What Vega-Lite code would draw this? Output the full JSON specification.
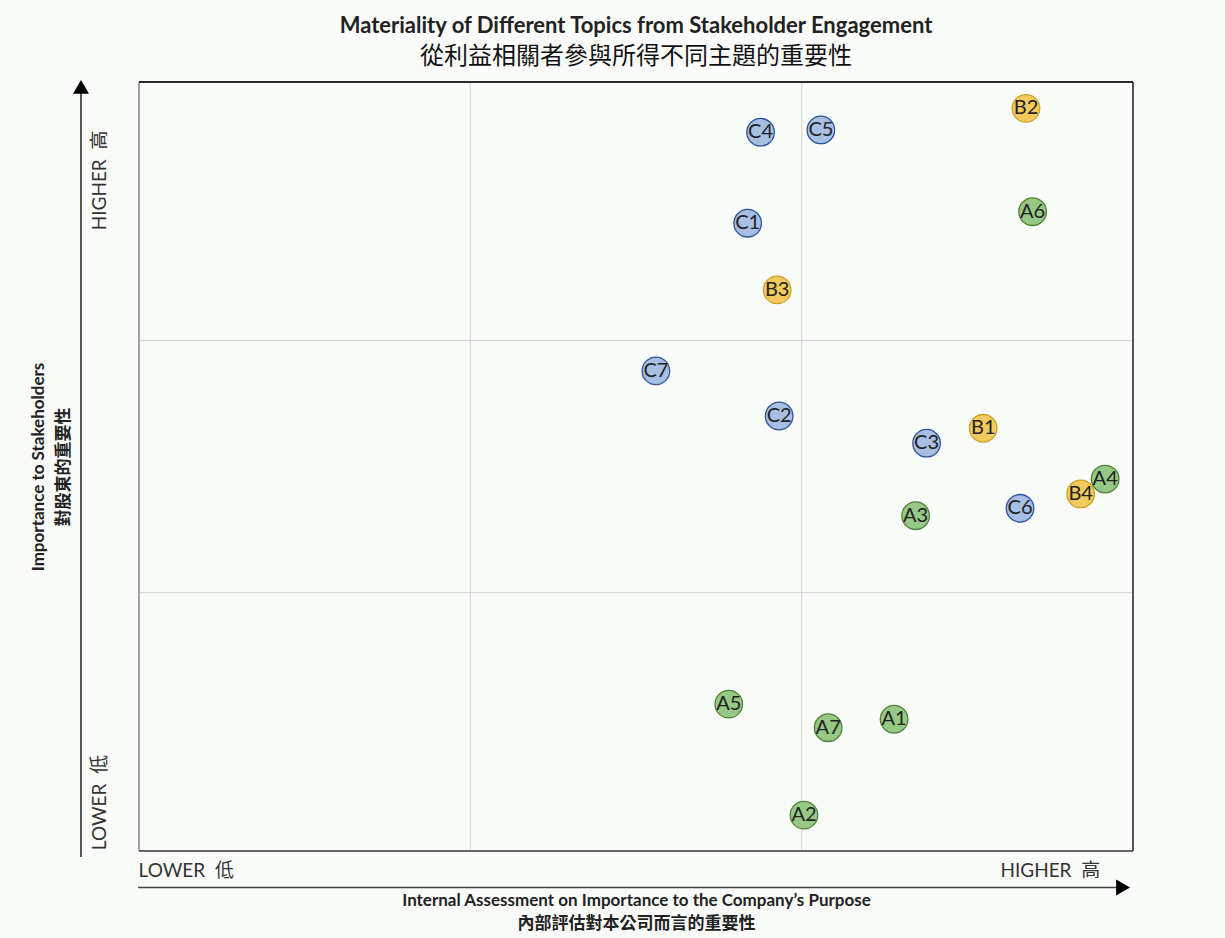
{
  "$schema": "https://vega.github.io/schema/vega-lite/v6.json",
  "width": 994,
  "height": 769,
  "autosize": {"type": "none"},
  "padding": {"left": 139, "top": 82, "right": 92, "bottom": 87},
  "background": "#fafcfa",
  "title": {
    "text": "Materiality of Different Topics from Stakeholder Engagement",
    "subtitle": "從利益相關者參與所得不同主題的重要性",
    "font": "Lato",
    "fontSize": 22,
    "fontWeight": "bold",
    "color": "#222222",
    "subtitleFont": "Noto Sans CJK TC",
    "subtitleFontSize": 24,
    "subtitleColor": "#111111",
    "subtitlePadding": 7,
    "anchor": "middle",
    "frame": "group",
    "offset": 10
  },
  "config": {"view": {"stroke": null}},
  "datasets": {
    "topics": [
      {"label": "A1", "group": "A", "internal": 2.279, "stakeholder": 0.514},
      {"label": "A2", "group": "A", "internal": 2.007, "stakeholder": 0.140},
      {"label": "A3", "group": "A", "internal": 2.344, "stakeholder": 1.308},
      {"label": "A4", "group": "A", "internal": 2.916, "stakeholder": 1.451},
      {"label": "A5", "group": "A", "internal": 1.780, "stakeholder": 0.573},
      {"label": "A6", "group": "A", "internal": 2.697, "stakeholder": 2.494},
      {"label": "A7", "group": "A", "internal": 2.080, "stakeholder": 0.481},
      {"label": "B1", "group": "B", "internal": 2.548, "stakeholder": 1.649},
      {"label": "B2", "group": "B", "internal": 2.677, "stakeholder": 2.897},
      {"label": "B3", "group": "B", "internal": 1.926, "stakeholder": 2.189},
      {"label": "B4", "group": "B", "internal": 2.842, "stakeholder": 1.393},
      {"label": "C1", "group": "C", "internal": 1.837, "stakeholder": 2.449},
      {"label": "C2", "group": "C", "internal": 1.932, "stakeholder": 1.697},
      {"label": "C3", "group": "C", "internal": 2.377, "stakeholder": 1.591},
      {"label": "C4", "group": "C", "internal": 1.876, "stakeholder": 2.804},
      {"label": "C5", "group": "C", "internal": 2.058, "stakeholder": 2.813},
      {"label": "C6", "group": "C", "internal": 2.659, "stakeholder": 1.337},
      {"label": "C7", "group": "C", "internal": 1.560, "stakeholder": 1.873}
    ],
    "grid": [{"g": 1}, {"g": 2}]
  },
  "layer": [
    {
      "data": {"name": "topics"},
      "mark": {"type": "point", "shape": "circle", "filled": true, "size": 750, "strokeWidth": 1.3, "opacity": 0},
      "encoding": {
        "x": {
          "field": "internal", "type": "quantitative",
          "scale": {"domain": [0, 3], "nice": false, "zero": false},
          "axis": {
            "values": [0.141, 2.749],
            "labelExpr": "datum.value < 1 ? 'LOWER\u00a0\u00a0低' : 'HIGHER\u00a0\u00a0高'",
            "grid": false, "ticks": false, "domain": false,
            "labelFont": "Lato, Noto Sans CJK TC", "labelFontSize": 19, "labelColor": "#333333",
            "labelPadding": 10, "labelOverlap": false, "labelFlush": false,
            "title": ["Internal Assessment on Importance to the Company’s Purpose", "內部評估對本公司而言的重要性"],
            "titleFont": "Lato, Noto Sans CJK TC", "titleFontSize": 17, "titleFontWeight": "bold",
            "titleColor": "#222222", "titleLineHeight": 23, "titlePadding": 12
          }
        },
        "y": {
          "field": "stakeholder", "type": "quantitative",
          "scale": {"domain": [0, 3], "nice": false, "zero": false},
          "axis": {
            "values": [0.191, 2.618],
            "labelExpr": "datum.value < 1 ? 'LOWER\u00a0\u00a0低' : 'HIGHER\u00a0\u00a0高'",
            "grid": false, "ticks": false, "domain": false,
            "labelAngle": -90,
            "labelFont": "Lato, Noto Sans CJK TC", "labelFontSize": 19, "labelColor": "#333333",
            "labelPadding": 30, "labelOverlap": false, "labelFlush": false,
            "title": ["Importance to Stakeholders", "對股東的重要性"],
            "titleFont": "Lato, Noto Sans CJK TC", "titleFontSize": 17, "titleFontWeight": "bold",
            "titleColor": "#222222", "titleLineHeight": 25, "titlePadding": 18
          }
        }
      }
    },
    {
      "data": {"name": "grid"},
      "mark": {"type": "rule", "color": "#d6d6d6", "strokeWidth": 1.2},
      "encoding": {
        "x": {"field": "g", "type": "quantitative", "scale": {"domain": [0, 3], "nice": false, "zero": false}}
      }
    },
    {
      "data": {"values": [{"g": 1.008}, {"g": 1.992}]},
      "mark": {"type": "rule", "color": "#d6d6d6", "strokeWidth": 1.2},
      "encoding": {
        "y": {"field": "g", "type": "quantitative", "scale": {"domain": [0, 3], "nice": false, "zero": false}}
      }
    },
    {
      "data": {"values": [{"x": 0}]},
      "mark": {"type": "rule", "color": "#a3a3a3", "strokeWidth": 2},
      "encoding": {
        "x": {"field": "x", "type": "quantitative", "scale": {"domain": [0, 3], "nice": false, "zero": false}}
      }
    },
    {
      "data": {"values": [{"x": 3}]},
      "mark": {"type": "rule", "color": "#555555", "strokeWidth": 2},
      "encoding": {
        "x": {"field": "x", "type": "quantitative", "scale": {"domain": [0, 3], "nice": false, "zero": false}}
      }
    },
    {
      "data": {"values": [{"y": 0}]},
      "mark": {"type": "rule", "color": "#666666", "strokeWidth": 2},
      "encoding": {
        "y": {"field": "y", "type": "quantitative", "scale": {"domain": [0, 3], "nice": false, "zero": false}}
      }
    },
    {
      "data": {"values": [{"y": 3}]},
      "mark": {"type": "rule", "color": "#2b2b2b", "strokeWidth": 2},
      "encoding": {
        "y": {"field": "y", "type": "quantitative", "scale": {"domain": [0, 3], "nice": false, "zero": false}}
      }
    },
    {
      "data": {"values": [{"x": -0.175, "y": -0.023, "y2": 2.96}]},
      "mark": {"type": "rule", "color": "#222222", "strokeWidth": 1.5},
      "encoding": {
        "x": {"field": "x", "type": "quantitative", "scale": {"domain": [0, 3], "nice": false, "zero": false}},
        "y": {"field": "y", "type": "quantitative", "scale": {"domain": [0, 3], "nice": false, "zero": false}},
        "y2": {"field": "y2"}
      }
    },
    {
      "data": {"values": [{"x": -0.175, "y": 2.981}]},
      "mark": {"type": "point", "shape": "triangle-up", "filled": true, "color": "#000000", "size": 256, "opacity": 1},
      "encoding": {
        "x": {"field": "x", "type": "quantitative", "scale": {"domain": [0, 3], "nice": false, "zero": false}},
        "y": {"field": "y", "type": "quantitative", "scale": {"domain": [0, 3], "nice": false, "zero": false}}
      }
    },
    {
      "data": {"values": [{"x": -0.003, "x2": 2.95, "y": -0.142}]},
      "mark": {"type": "rule", "color": "#444444", "strokeWidth": 1.5},
      "encoding": {
        "x": {"field": "x", "type": "quantitative", "scale": {"domain": [0, 3], "nice": false, "zero": false}},
        "x2": {"field": "x2"},
        "y": {"field": "y", "type": "quantitative", "scale": {"domain": [0, 3], "nice": false, "zero": false}}
      }
    },
    {
      "data": {"values": [{"x": 2.970, "y": -0.142}]},
      "mark": {"type": "point", "shape": "triangle-right", "filled": true, "color": "#000000", "size": 256, "opacity": 1},
      "encoding": {
        "x": {"field": "x", "type": "quantitative", "scale": {"domain": [0, 3], "nice": false, "zero": false}},
        "y": {"field": "y", "type": "quantitative", "scale": {"domain": [0, 3], "nice": false, "zero": false}}
      }
    },
    {
      "data": {"name": "topics"},
      "mark": {"type": "point", "shape": "circle", "filled": true, "size": 760, "strokeWidth": 1.3, "opacity": 1, "fillOpacity": 1},
      "encoding": {
        "x": {"field": "internal", "type": "quantitative", "scale": {"domain": [0, 3], "nice": false, "zero": false}},
        "y": {"field": "stakeholder", "type": "quantitative", "scale": {"domain": [0, 3], "nice": false, "zero": false}},
        "fill": {
          "field": "group", "type": "nominal", "legend": null,
          "scale": {"domain": ["A", "B", "C"], "range": ["#97c986", "#f3ca5e", "#a6bfe3"]}
        },
        "stroke": {
          "field": "group", "type": "nominal", "legend": null,
          "scale": {"domain": ["A", "B", "C"], "range": ["#538135", "#c9a22c", "#2f5597"]}
        }
      }
    },
    {
      "data": {"name": "topics"},
      "mark": {"type": "text", "font": "Lato", "fontSize": 20, "color": "#222222", "align": "center", "baseline": "middle"},
      "encoding": {
        "x": {"field": "internal", "type": "quantitative", "scale": {"domain": [0, 3], "nice": false, "zero": false}},
        "y": {"field": "stakeholder", "type": "quantitative", "scale": {"domain": [0, 3], "nice": false, "zero": false}},
        "text": {"field": "label"}
      }
    }
  ]
}
